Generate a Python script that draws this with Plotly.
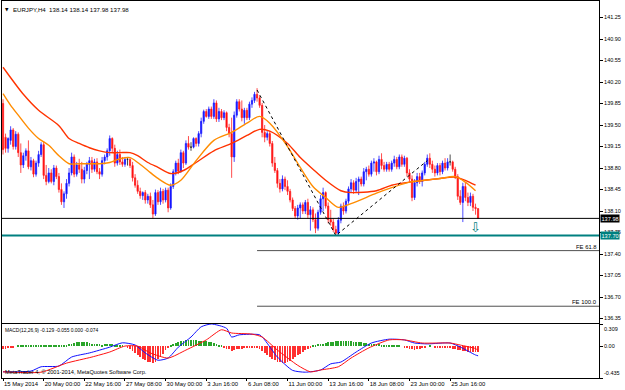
import plotly.graph_objects as go

# ---------------- data ----------------
opens = [
    139.85, 139.30, 139.12, 139.25, 139.42, 139.15, 139.35, 139.05, 138.85, 139.00,
    139.08, 138.82, 138.92, 138.70, 138.88, 139.02, 139.18, 138.68, 138.58, 138.72,
    138.58, 138.80, 138.66, 138.45, 138.25, 138.38, 138.55, 138.72, 138.98, 138.70,
    138.85, 138.78, 138.62, 138.76, 138.86, 138.92, 138.78, 138.90, 138.74, 138.70,
    138.92, 138.98, 139.08, 139.28, 139.12, 138.88, 139.02, 138.90, 138.86, 138.94,
    138.94, 138.84, 138.64, 138.52, 138.42, 138.35, 138.40, 138.28, 138.34, 138.20,
    138.05, 138.40, 138.25, 138.42, 138.28, 138.44, 138.15, 138.50, 138.74, 138.88,
    138.75, 139.05, 138.88, 139.20, 139.14, 139.14, 139.28, 139.20, 139.36, 139.56,
    139.72, 139.64, 139.76, 139.64, 139.86, 139.60, 139.72, 139.62, 139.70, 139.46,
    139.36, 138.98, 139.66, 139.88, 139.76, 139.62, 139.74, 139.62, 139.84, 139.90,
    140.00, 139.94, 139.82, 139.38, 139.30, 139.36, 139.20, 138.88, 138.76, 138.55,
    138.46, 138.62, 138.50, 138.42, 138.28, 138.14, 138.02, 138.15, 138.20, 138.10,
    138.24, 138.04, 138.12, 137.96, 137.82, 138.08, 138.30, 138.40, 138.18, 137.96,
    137.92, 137.80, 137.74, 137.95, 138.18, 138.10, 138.26, 138.46, 138.56, 138.44,
    138.58, 138.62, 138.54, 138.74, 138.78, 138.70, 138.88, 138.90, 138.74, 138.94,
    138.84, 138.78, 138.86, 138.78, 138.88, 138.94, 138.82, 138.98, 138.86, 138.96,
    138.72, 138.62, 138.32, 138.56, 138.66, 138.58, 138.72, 138.86, 138.96, 138.86,
    138.78, 138.72, 138.84, 138.74, 138.88, 138.80, 138.90, 138.90, 138.78, 138.66,
    138.34, 138.24, 138.50, 138.32, 138.24, 138.34, 138.16, 138.14,
]
highs = [
    139.92, 139.36, 139.30, 139.48, 139.45, 139.40, 139.38, 139.20, 139.05, 139.12,
    139.25, 138.98, 138.95, 138.92, 139.08, 139.22, 139.24, 138.85, 138.80, 138.78,
    138.85, 138.84, 138.72, 138.55, 138.42, 138.62, 138.80, 139.05, 139.02, 138.90,
    138.95, 138.90, 138.82, 138.90, 138.98, 138.98, 138.95, 138.96, 138.80, 138.98,
    139.02, 139.12, 139.33, 139.30, 139.18, 139.08, 139.10, 138.98, 138.98, 138.98,
    138.96, 138.90, 138.70, 138.60, 138.48, 138.42, 138.44, 138.38, 138.40, 138.28,
    138.45, 138.44, 138.48, 138.46, 138.48, 138.48, 138.55, 138.78, 138.92, 138.95,
    139.10, 139.08, 139.25, 139.32, 139.22, 139.30, 139.30, 139.40, 139.62, 139.75,
    139.76, 139.80, 139.80, 139.92, 139.90, 139.78, 139.76, 139.74, 139.72, 139.52,
    139.62, 139.72, 139.92, 139.92, 139.90, 139.78, 139.78, 139.88, 139.95, 140.04,
    140.10, 139.98, 139.86, 139.50, 139.40, 139.40, 139.24, 138.98, 138.80, 138.62,
    138.68, 138.66, 138.60, 138.46, 138.32, 138.18, 138.20, 138.24, 138.24, 138.28,
    138.30, 138.18, 138.16, 138.06, 138.12, 138.36, 138.48, 138.42, 138.24, 138.12,
    137.98, 137.86, 138.00, 138.22, 138.24, 138.30, 138.50, 138.62, 138.60, 138.64,
    138.66, 138.66, 138.80, 138.82, 138.84, 138.92, 138.96, 138.92, 139.00, 139.04,
    138.90, 138.90, 138.90, 138.92, 139.00, 138.98, 139.02, 139.02, 139.00, 138.98,
    138.78, 138.68, 138.62, 138.72, 138.72, 138.76, 138.90, 139.02, 139.04, 138.92,
    138.84, 138.88, 138.88, 138.92, 138.96, 138.96, 139.02, 138.92, 138.82, 138.70,
    138.44, 138.56, 138.56, 138.40, 138.40, 138.38, 138.22, 138.14,
]
lows = [
    139.02, 139.05, 139.05, 139.18, 139.10, 139.10, 138.98, 138.72, 138.80, 138.92,
    138.78, 138.76, 138.65, 138.66, 138.82, 138.98, 138.62, 138.52, 138.55, 138.55,
    138.52, 138.62, 138.40, 138.20, 138.15, 138.30, 138.50, 138.68, 138.65, 138.66,
    138.72, 138.55, 138.55, 138.70, 138.62, 138.72, 138.74, 138.70, 138.62, 138.66,
    138.86, 138.92, 139.00, 139.05, 138.82, 138.84, 138.85, 138.82, 138.82, 138.84,
    138.80, 138.58, 138.48, 138.38, 138.30, 138.28, 138.22, 138.22, 138.15, 137.98,
    138.02, 138.20, 138.20, 138.22, 138.24, 138.08, 138.12, 138.46, 138.68, 138.70,
    138.72, 138.80, 138.85, 139.10, 139.08, 139.12, 139.15, 139.15, 139.30, 139.52,
    139.62, 139.60, 139.60, 139.60, 139.55, 139.55, 139.58, 139.58, 139.40, 139.30,
    138.64, 138.90, 139.62, 139.72, 139.56, 139.52, 139.58, 139.58, 139.78, 139.86,
    139.88, 139.78, 139.30, 139.22, 139.25, 139.15, 138.82, 138.72, 138.48, 138.40,
    138.42, 138.44, 138.36, 138.24, 138.10, 137.98, 137.96, 137.98, 138.05, 138.05,
    137.98, 137.78, 137.92, 137.74, 137.78, 138.04, 138.10, 138.14, 137.90, 137.86,
    137.76, 137.70, 137.70, 137.90, 138.04, 138.06, 138.22, 138.40, 138.38, 138.40,
    138.36, 138.50, 138.50, 138.60, 138.66, 138.66, 138.74, 138.68, 138.70, 138.78,
    138.74, 138.74, 138.74, 138.74, 138.82, 138.78, 138.78, 138.82, 138.82, 138.66,
    138.56, 138.26, 138.28, 138.50, 138.54, 138.50, 138.68, 138.82, 138.80, 138.72,
    138.66, 138.68, 138.68, 138.70, 138.76, 138.76, 138.84, 138.74, 138.62, 138.28,
    138.20, 137.92, 138.26, 138.18, 138.18, 138.10, 138.04, 137.98,
]
closes = [
    139.10, 139.12, 139.28, 139.42, 139.15, 139.35, 139.05, 138.85, 139.00, 139.08,
    138.82, 138.92, 138.70, 138.88, 139.02, 139.18, 138.68, 138.58, 138.72, 138.58,
    138.80, 138.66, 138.45, 138.25, 138.38, 138.55, 138.72, 138.98, 138.70, 138.85,
    138.78, 138.62, 138.76, 138.86, 138.92, 138.78, 138.90, 138.74, 138.70, 138.92,
    138.98, 139.08, 139.28, 139.12, 138.88, 139.02, 138.90, 138.86, 138.94, 138.94,
    138.84, 138.64, 138.52, 138.42, 138.35, 138.40, 138.28, 138.34, 138.20, 138.05,
    138.40, 138.25, 138.42, 138.28, 138.44, 138.15, 138.50, 138.74, 138.88, 138.75,
    139.05, 138.88, 139.20, 139.14, 139.14, 139.28, 139.20, 139.36, 139.56, 139.72,
    139.64, 139.76, 139.64, 139.86, 139.60, 139.72, 139.62, 139.70, 139.46, 139.36,
    138.98, 139.66, 139.88, 139.76, 139.62, 139.74, 139.62, 139.84, 139.90, 140.00,
    139.94, 139.82, 139.38, 139.30, 139.36, 139.20, 138.88, 138.76, 138.55, 138.46,
    138.62, 138.50, 138.42, 138.28, 138.14, 138.02, 138.15, 138.20, 138.10, 138.24,
    138.04, 138.12, 137.96, 137.82, 138.08, 138.30, 138.40, 138.18, 137.96, 137.92,
    137.80, 137.74, 137.95, 138.18, 138.10, 138.26, 138.46, 138.56, 138.44, 138.58,
    138.62, 138.54, 138.74, 138.78, 138.70, 138.88, 138.90, 138.74, 138.94, 138.84,
    138.78, 138.86, 138.78, 138.88, 138.94, 138.82, 138.98, 138.86, 138.96, 138.72,
    138.62, 138.32, 138.56, 138.66, 138.58, 138.72, 138.86, 138.96, 138.86, 138.78,
    138.72, 138.84, 138.74, 138.88, 138.80, 138.90, 138.90, 138.78, 138.66, 138.34,
    138.24, 138.50, 138.32, 138.24, 138.34, 138.16, 138.14, 137.98,
]

# moving averages (sampled along the curves)
ma_slow_bar = [0, 8, 14, 22, 26, 30, 34, 38, 42, 46, 50, 53, 57, 61, 66, 71, 76, 83, 90,
               96, 101, 105, 112, 117, 122, 127, 133, 137, 147, 153, 160, 166, 172, 178, 182, 186]
ma_slow = [140.44, 140.00, 139.74, 139.49, 139.28, 139.20, 139.13, 139.08, 139.05, 139.05,
           139.05, 139.00, 138.89, 138.81, 138.71, 138.76, 138.89, 139.08, 139.20, 139.33,
           139.43, 139.40, 139.20, 138.97, 138.78, 138.60, 138.43, 138.40, 138.43, 138.52,
           138.57, 138.60, 138.63, 138.65, 138.60, 138.52]
ma_fast_bar = [0, 3, 6, 10, 14, 18, 22, 26, 30, 34, 38, 42, 46, 50, 53, 57, 61, 66, 70, 76,
               83, 90, 96, 101, 105, 112, 117, 122, 127, 132, 137, 147, 153, 160, 166, 172,
               178, 182, 186]
ma_fast = [140.01, 139.82, 139.66, 139.45, 139.28, 139.17, 139.00, 138.87, 138.87, 138.87,
           138.87, 138.89, 138.95, 138.97, 138.89, 138.76, 138.63, 138.52, 138.60, 138.92,
           139.25, 139.38, 139.53, 139.64, 139.53, 139.15, 138.81, 138.50, 138.32, 138.16,
           138.22, 138.39, 138.48, 138.57, 138.60, 138.63, 138.66, 138.57, 138.43]

# MACD(12,26,9)
macd_bar = [0, 11, 15, 22, 27, 34, 42, 47, 52, 56, 61, 65, 69, 74, 78, 82, 88, 90, 93, 101,
            103, 108, 114, 119, 125, 129, 133, 139, 145, 152, 158, 162, 167, 176, 180, 186, 187]
macd_main = [-0.350, -0.340, -0.280, -0.270, -0.146, -0.090, -0.010, 0.050, 0.020, -0.090,
             -0.190, -0.160, -0.010, 0.130, 0.270, 0.309, 0.250, 0.130, 0.160, 0.160,
             0.090, -0.146, -0.330, -0.355, -0.325, -0.240, -0.215, -0.077, 0.047, 0.100,
             0.090, 0.047, 0.035, 0.047, -0.008, -0.118, -0.129]
signal_bar = [0, 15, 25, 35, 42, 48, 53, 58, 65, 72, 80, 86, 90, 98, 102, 108, 116, 121, 125,
              132, 137, 144, 152, 158, 165, 176, 180, 186, 187]
macd_signal = [-0.350, -0.355, -0.230, -0.146, -0.077, 0.005, 0.005, -0.090, -0.160, -0.050,
               0.090, 0.230, 0.185, 0.170, 0.130, -0.050, -0.260, -0.350, -0.325, -0.280,
               -0.160, -0.020, 0.090, 0.090, 0.047, 0.047, 0.019, -0.030, -0.055]
osma = [
    -0.04, -0.03, -0.02, -0.01, -0.01, 0.00, 0.01, 0.01, 0.02, 0.01,
    0.02, 0.01, 0.02, 0.02, 0.02, 0.01, 0.02, 0.02, 0.01, 0.02,
    0.02, 0.01, 0.01, 0.02, 0.01, 0.02, 0.03, 0.04, 0.05, 0.06,
    0.065, 0.065, 0.06, 0.06, 0.05, 0.04, 0.035, 0.03, 0.03, 0.025,
    0.03, 0.03, 0.04, 0.03, 0.025, 0.02, 0.015, 0.01, 0.00, -0.02,
    -0.04, -0.06, -0.09, -0.12, -0.15, -0.17, -0.19, -0.21, -0.22, -0.23,
    -0.21, -0.18, -0.14, -0.10, -0.05, -0.02, 0.02, 0.03, 0.05, 0.06,
    0.07, 0.08, 0.085, 0.088, 0.088, 0.085, 0.085, 0.08, 0.08, 0.075,
    0.07, 0.065, 0.06, 0.05, 0.04, 0.025, 0.01, -0.01, -0.03, -0.04,
    -0.06, -0.05, -0.04, -0.035, -0.03, -0.025, -0.02, -0.02, -0.01, -0.01,
    -0.02, -0.04, -0.06, -0.09, -0.12, -0.14, -0.17, -0.19, -0.21, -0.22,
    -0.23, -0.23, -0.22, -0.20, -0.18, -0.15, -0.12, -0.10, -0.07, -0.05,
    -0.03, -0.01, 0.01, 0.02, 0.03, 0.035, 0.04, 0.05, 0.055, 0.06,
    0.065, 0.07, 0.07, 0.075, 0.075, 0.075, 0.07, 0.07, 0.065, 0.065,
    0.06, 0.055, 0.05, 0.045, 0.04, 0.04, 0.035, 0.03, 0.03, 0.025,
    0.025, 0.02, 0.02, 0.02, 0.01, 0.01, 0.01, 0.00, -0.01, -0.02,
    -0.035, -0.04, -0.045, -0.035, -0.03, -0.02, -0.01, 0.00, 0.01, 0.00,
    -0.01, -0.02, -0.02, -0.01, -0.01, -0.02, -0.02, -0.03, -0.04, -0.05,
    -0.055, -0.06, -0.065, -0.07, -0.07, -0.075, -0.074, -0.074,
]

time_tick_bars = [0, 16, 32, 48, 64, 80, 96, 112, 128, 144, 160, 176]
time_tick_labels = ["15 May 2014", "20 May 00:00", "22 May 16:00", "27 May 08:00",
                    "30 May 00:00", "3 Jun 16:00", "6 Jun 08:00", "11 Jun 00:00",
                    "13 Jun 16:00", "18 Jun 08:00", "23 Jun 00:00", "25 Jun 16:00"]
price_ticks = [141.25, 140.90, 140.55, 140.20, 139.85, 139.50, 139.15, 138.80,
               138.45, 138.10, 137.75, 137.40, 137.05, 136.70, 136.35]
macd_ticks = [0.309, 0.0, -0.435]

bid_price = 137.98
support_price = 137.70
fe_bars = [100, 131, 167]
fe_prices = [140.07, 137.70, 138.92]
fe_levels = [61.8, 100.0]
arrow_bar = 186
arrow_price = 137.83

# ---------------- figure ----------------
FONT = "Liberation Sans"
X_RANGE = [-0.4, 234.6]
Y_RANGE = [136.285, 141.519]
MACD_RANGE = [-0.435, 0.309]

n = len(closes)
idx = list(range(n))
normal = [i for i in idx if opens[i] != closes[i]]
doji = [i for i in idx if opens[i] == closes[i]]

fig = go.Figure()

fig.add_trace(go.Candlestick(
    x=normal, open=[opens[i] for i in normal], high=[highs[i] for i in normal],
    low=[lows[i] for i in normal], close=[closes[i] for i in normal],
    increasing=dict(line=dict(color="#1f1fff", width=0.8), fillcolor="#0000ff"),
    decreasing=dict(line=dict(color="#ff1f1f", width=0.8), fillcolor="#ff0000"),
    whiskerwidth=0, xaxis="x", yaxis="y", hoverinfo="skip"))
fig.add_trace(go.Candlestick(
    x=doji, open=[opens[i] for i in doji], high=[highs[i] for i in doji],
    low=[lows[i] for i in doji], close=[closes[i] for i in doji],
    increasing=dict(line=dict(color="#202020", width=0.8), fillcolor="#202020"),
    decreasing=dict(line=dict(color="#202020", width=0.8), fillcolor="#202020"),
    whiskerwidth=0, xaxis="x", yaxis="y", hoverinfo="skip"))

fig.add_trace(go.Scatter(x=ma_slow_bar, y=ma_slow, mode="lines",
                         line=dict(color="#ff3300", width=1.4, shape="spline", smoothing=0.8),
                         xaxis="x", yaxis="y", hoverinfo="skip"))
fig.add_trace(go.Scatter(x=ma_fast_bar, y=ma_fast, mode="lines",
                         line=dict(color="#ff8c00", width=1.4, shape="spline", smoothing=0.8),
                         xaxis="x", yaxis="y", hoverinfo="skip"))

# Fibonacci expansion: dotted legs and levels
fig.add_trace(go.Scatter(x=fe_bars, y=fe_prices, mode="lines",
                         line=dict(color="black", width=1, dash="dot"),
                         xaxis="x", yaxis="y", hoverinfo="skip"))
swing = fe_prices[0] - fe_prices[1]
for lvl in fe_levels:
    p = fe_prices[2] - swing * lvl / 100.0
    fig.add_trace(go.Scatter(x=[fe_bars[0], X_RANGE[1]], y=[p, p], mode="lines",
                             line=dict(color="#505050", width=1),
                             xaxis="x", yaxis="y", hoverinfo="skip"))
    fig.add_annotation(x=1, xref="paper", y=p, yref="y", xanchor="right", yanchor="bottom",
                       text="FE %s" % lvl, showarrow=False, yshift=-1,
                       font=dict(family=FONT, size=5.9, color="black"))

# MACD window
fig.add_trace(go.Bar(x=idx, y=osma, width=0.3,
                     marker=dict(color=["#2aa52a" if v >= 0 else "#ff3030" for v in osma],
                                 line=dict(width=0)),
                     xaxis="x2", yaxis="y2", hoverinfo="skip"))
fig.add_trace(go.Scatter(x=macd_bar, y=macd_main, mode="lines",
                         line=dict(color="#1010ff", width=1, shape="spline", smoothing=0.6),
                         xaxis="x2", yaxis="y2", hoverinfo="skip"))
fig.add_trace(go.Scatter(x=signal_bar, y=macd_signal, mode="lines",
                         line=dict(color="#ff1010", width=1, shape="spline", smoothing=0.6),
                         xaxis="x2", yaxis="y2", hoverinfo="skip"))

# horizontal lines
fig.add_shape(type="line", xref="x domain", x0=0, x1=1, yref="y", y0=bid_price, y1=bid_price,
              line=dict(color="black", width=1))
fig.add_shape(type="line", xref="x domain", x0=0, x1=1, yref="y", y0=support_price,
              y1=support_price, line=dict(color="#008080", width=2))

# price boxes on the axis
for p, bg in [(bid_price, "black"), (support_price, "#008080")]:
    fig.add_annotation(x=1, xref="paper", y=p, yref="y", xanchor="left", yanchor="middle",
                       text="%.2f" % p, showarrow=False, bgcolor=bg, borderpad=0.5, xshift=1,
                       font=dict(family=FONT, size=5.6, color="white"))

# down arrow
fig.add_annotation(x=arrow_bar, xref="x", y=arrow_price, yref="y", text="\u21e9",
                   showarrow=False, font=dict(family="DejaVu Sans", size=13, color="#008080"))

# texts
fig.add_annotation(x=0, xref="paper", y=1, yref="paper", xanchor="left", yanchor="top",
                   xshift=1, yshift=-4, text="\u25bc", showarrow=False,
                   font=dict(family="DejaVu Sans", size=4.5, color="black"))
fig.add_annotation(x=0, xref="paper", y=1, yref="paper", xanchor="left", yanchor="top",
                   xshift=9, yshift=-3, showarrow=False,
                   text="EURJPY,H4  %.2f %.2f %.2f %.2f" % (opens[-1], highs[-1], lows[-1], closes[-1]),
                   font=dict(family=FONT, size=6.1, color="black"))
fig.add_annotation(x=0, xref="paper", y=MACD_RANGE[1], yref="y2", xanchor="left", yanchor="top",
                   xshift=1, yshift=-2, showarrow=False,
                   text="MACD(12,26,9) %.3f %.3f %.3f %.3f" % (macd_main[-1], macd_signal[-1], 0.0, osma[-1]),
                   font=dict(family=FONT, size=4.9, color="black"))
fig.add_annotation(x=0, xref="paper", y=MACD_RANGE[0], yref="y2", xanchor="left", yanchor="bottom",
                   xshift=1, yshift=1, showarrow=False,
                   text="MetaTrader 4, \u00a9 2001-2014, MetaQuotes Software Corp.",
                   font=dict(family=FONT, size=5.6, color="black"))
# MACD scale labels (drawn inside the window edges as the terminal does)
for v, ya in [(macd_ticks[0], "top"), (macd_ticks[1], "middle"), (macd_ticks[2], "bottom")]:
    fig.add_annotation(x=1, xref="paper", y=v, yref="y2", xanchor="left", yanchor=ya,
                       xshift=3, showarrow=False,
                       text=("%.3f" % v) if v != 0 else "0.00",
                       font=dict(family=FONT, size=5.5, color="black"))

axis_common = dict(showgrid=False, zeroline=False, showline=True, mirror=True,
                   linecolor="black", linewidth=1, automargin=False)
fig.update_layout(
    width=625, height=390, autosize=False,
    margin=dict(l=2, r=26, t=1, b=12),
    paper_bgcolor="white", plot_bgcolor="white",
    showlegend=False, hovermode=False,
    font=dict(family=FONT, size=5.8, color="black"),
    xaxis=dict(domain=[0, 1], range=X_RANGE, anchor="y", showticklabels=False, ticks="",
               rangeslider=dict(visible=False), **axis_common),
    xaxis2=dict(domain=[0, 1], range=X_RANGE, anchor="y2", matches="x",
                tickvals=time_tick_bars, ticktext=time_tick_labels, tickangle=0,
                ticks="outside", ticklen=2, tickcolor="black",
                ticklabelposition="outside right",
                tickfont=dict(family=FONT, size=5.9, color="black"),
                rangeslider=dict(visible=False), **axis_common),
    yaxis=dict(domain=[0.1472, 1], range=Y_RANGE, anchor="x", side="right",
               tickvals=price_ticks, ticktext=["%.2f" % v for v in price_ticks],
               ticks="outside", ticklen=3, tickcolor="black",
               tickfont=dict(family=FONT, size=5.5, color="black"), **axis_common),
    yaxis2=dict(domain=[0, 0.1432], range=MACD_RANGE, anchor="x2", side="right",
                tickvals=macd_ticks, showticklabels=False,
                ticks="outside", ticklen=3, tickcolor="black", **axis_common),
    bargap=0,
)

fig.write_html("out.html")
